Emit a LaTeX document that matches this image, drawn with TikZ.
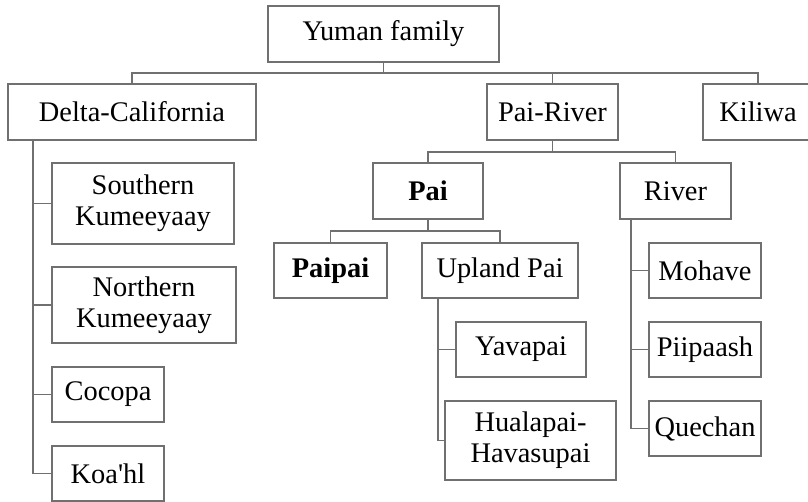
\documentclass[tikz,border=0pt]{standalone}
\usepackage{fontspec}
\setmainfont{Liberation Serif}
\definecolor{linegray}{RGB}{112,112,112}
\begin{document}
\begin{tikzpicture}[x=1pt,y=-1pt,
  box/.style={draw=linegray, line width=1.2pt, rectangle, inner sep=0pt, align=center,
    font=\fontsize{28.4}{31}\selectfont, text=black},
  conn/.style={draw=linegray, line width=1.2pt}]
\useasboundingbox[fill=white] (0,0) rectangle (808,501);
% nodes
\node[box, minimum width=231pt, minimum height=56pt] (yuman) at (383.5,34) {Yuman family};
\node[box, minimum width=248pt, minimum height=56pt] (delta) at (132,112) {Delta-California};
\node[box, minimum width=131pt, minimum height=56pt] (pairiver) at (552.5,112) {Pai-River};
\node[box, minimum width=110pt, minimum height=56pt] (kiliwa) at (758,112) {Kiliwa};
\node[box, minimum width=110pt, minimum height=56pt] (pai) at (428,191) {\bfseries Pai};
\node[box, minimum width=111pt, minimum height=56pt] (river) at (675.5,191) {River};
\node[box, minimum width=113pt, minimum height=55pt] (paipai) at (330.5,270.5) {\bfseries Paipai};
\node[box, minimum width=156pt, minimum height=55pt] (upland) at (500,270.5) {Upland Pai};
\node[box, minimum width=130pt, minimum height=55pt] (yavapai) at (521,349.5) {Yavapai};
\node[box, minimum width=171pt, minimum height=79pt] (huala) at (530.5,440.5) {Hualapai-\\Havasupai};
\node[box, minimum width=112pt, minimum height=55pt] (mohave) at (705,270.5) {Mohave};
\node[box, minimum width=112pt, minimum height=55pt] (piipaash) at (705,349.5) {Piipaash};
\node[box, minimum width=112pt, minimum height=55pt] (quechan) at (705,428.5) {Quechan};
\node[box, minimum width=182pt, minimum height=81pt] (sk) at (143,203.5) {Southern\\Kumeeyaay};
\node[box, minimum width=184pt, minimum height=76pt] (nk) at (144,305) {Northern\\Kumeeyaay};
\node[box, minimum width=112pt, minimum height=55pt] (cocopa) at (108,394.5) {Cocopa};
\node[box, minimum width=112pt, minimum height=55pt] (koahl) at (108,473.5) {Koa\textquotesingle hl};
% bus coordinates
\coordinate (bus1) at (383.5,73);
\coordinate (bus2) at (552.5,152);
\coordinate (bus3) at (428,231);
\coordinate (dv) at (33,140);
\coordinate (uv) at (438,298);
\coordinate (rv) at (631,219);
% top level
\draw[conn] (yuman.south) -- (bus1);
\draw[conn] (delta.north) |- (bus1) -| (kiliwa.north);
\draw[conn] (pairiver.north) -- (pairiver.north |- bus1);
% Pai-River
\draw[conn] (pairiver.south) -- (bus2);
\draw[conn] (pai.north) |- (bus2) -| (river.north);
% Pai
\draw[conn] (pai.south) -- (bus3);
\draw[conn] (paipai.north) |- (bus3) -| (upland.north);
% Delta-California
\draw[conn] (dv) |- (koahl.west);
\draw[conn] (sk.west) -- (sk.west -| dv);
\draw[conn] (nk.west) -- (nk.west -| dv);
\draw[conn] (cocopa.west) -- (cocopa.west -| dv);
% Upland Pai
\draw[conn] (uv) |- (huala.west);
\draw[conn] (yavapai.west) -- (yavapai.west -| uv);
% River
\draw[conn] (rv) |- (quechan.west);
\draw[conn] (mohave.west) -- (mohave.west -| rv);
\draw[conn] (piipaash.west) -- (piipaash.west -| rv);
\end{tikzpicture}
\end{document}
